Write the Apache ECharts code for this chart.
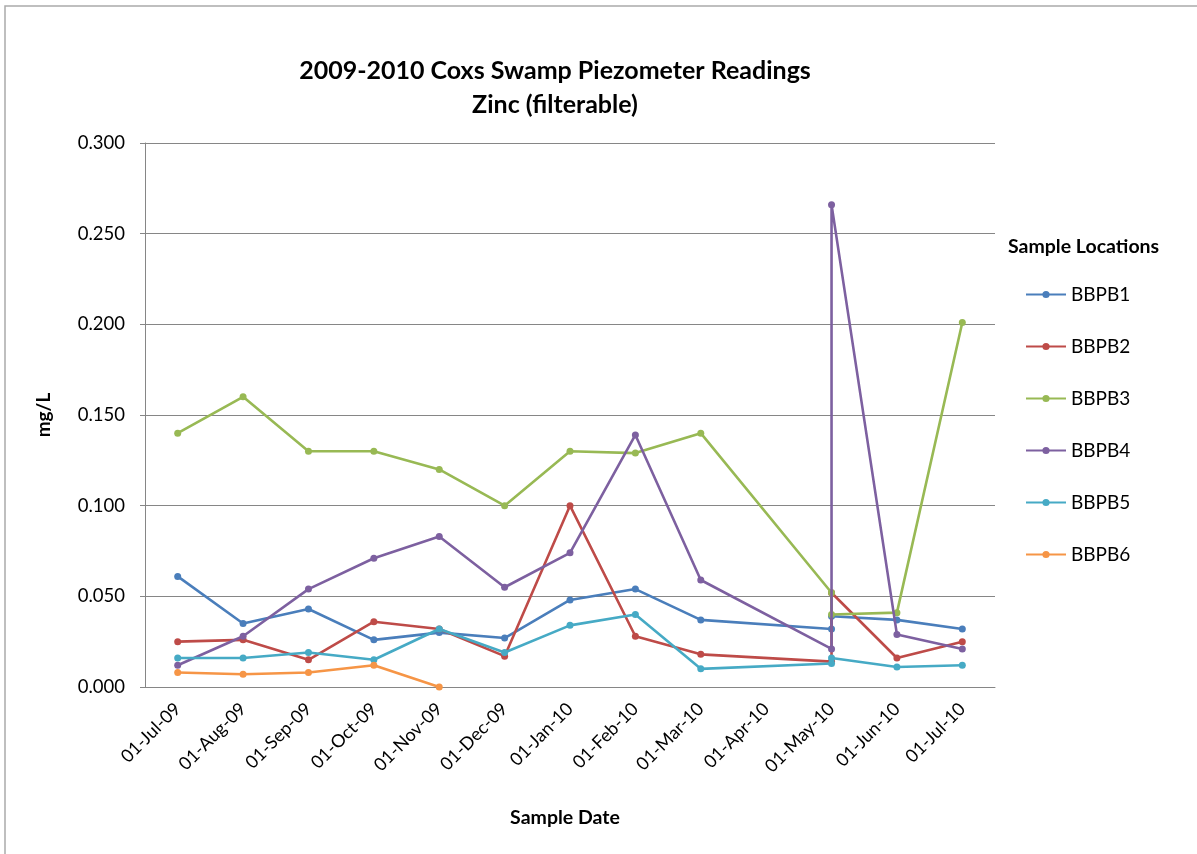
<!DOCTYPE html>
<html>
<head>
<meta charset="utf-8">
<script src="https://cdn.jsdelivr.net/npm/echarts@6/dist/echarts.min.js"></script>
<style>
  html, body { margin: 0; padding: 0; background: #fff; }
  #chart { width: 1197px; height: 854px; }
</style>
</head>
<body>
<div id="chart"></div>
<script>
// Monthly sample slots on the date axis
const months = ['01-Jul-09', '01-Aug-09', '01-Sep-09', '01-Oct-09', '01-Nov-09', '01-Dec-09',
                '01-Jan-10', '01-Feb-10', '01-Mar-10', '01-Apr-10', '01-May-10', '01-Jun-10', '01-Jul-10'];

// Zinc (filterable) readings, mg/L, as [sample month, value]; May-10 was sampled twice
const BBPB1 = [['01-Jul-09', 0.061], ['01-Aug-09', 0.035], ['01-Sep-09', 0.043], ['01-Oct-09', 0.026],
               ['01-Nov-09', 0.030], ['01-Dec-09', 0.027], ['01-Jan-10', 0.048], ['01-Feb-10', 0.054],
               ['01-Mar-10', 0.037], ['01-May-10', 0.032], ['01-May-10', 0.039], ['01-Jun-10', 0.037],
               ['01-Jul-10', 0.032]];
const BBPB2 = [['01-Jul-09', 0.025], ['01-Aug-09', 0.026], ['01-Sep-09', 0.015], ['01-Oct-09', 0.036],
               ['01-Nov-09', 0.032], ['01-Dec-09', 0.017], ['01-Jan-10', 0.100], ['01-Feb-10', 0.028],
               ['01-Mar-10', 0.018], ['01-May-10', 0.014], ['01-May-10', 0.052], ['01-Jun-10', 0.016],
               ['01-Jul-10', 0.025]];
const BBPB3 = [['01-Jul-09', 0.140], ['01-Aug-09', 0.160], ['01-Sep-09', 0.130], ['01-Oct-09', 0.130],
               ['01-Nov-09', 0.120], ['01-Dec-09', 0.100], ['01-Jan-10', 0.130], ['01-Feb-10', 0.129],
               ['01-Mar-10', 0.140], ['01-May-10', 0.052], ['01-May-10', 0.040], ['01-Jun-10', 0.041],
               ['01-Jul-10', 0.201]];
const BBPB4 = [['01-Jul-09', 0.012], ['01-Aug-09', 0.028], ['01-Sep-09', 0.054], ['01-Oct-09', 0.071],
               ['01-Nov-09', 0.083], ['01-Dec-09', 0.055], ['01-Jan-10', 0.074], ['01-Feb-10', 0.139],
               ['01-Mar-10', 0.059], ['01-May-10', 0.021], ['01-May-10', 0.266], ['01-Jun-10', 0.029],
               ['01-Jul-10', 0.021]];
const BBPB5 = [['01-Jul-09', 0.016], ['01-Aug-09', 0.016], ['01-Sep-09', 0.019], ['01-Oct-09', 0.015],
               ['01-Nov-09', 0.032], ['01-Dec-09', 0.019], ['01-Jan-10', 0.034], ['01-Feb-10', 0.040],
               ['01-Mar-10', 0.010], ['01-May-10', 0.013], ['01-May-10', 0.016], ['01-Jun-10', 0.011],
               ['01-Jul-10', 0.012]];
const BBPB6 = [['01-Jul-09', 0.008], ['01-Aug-09', 0.007], ['01-Sep-09', 0.008], ['01-Oct-09', 0.012],
               ['01-Nov-09', 0.000]];

const seriesNames = ['BBPB1', 'BBPB2', 'BBPB3', 'BBPB4', 'BBPB5', 'BBPB6'];
const seriesData = [BBPB1, BBPB2, BBPB3, BBPB4, BBPB5, BBPB6];
const colors = ['#4A7EBB', '#BE4B48', '#98B954', '#7D60A0', '#46AAC5', '#F69546'];

const FONT = 'Lato, "Open Sans", sans-serif';

const chart = echarts.init(document.getElementById('chart'), null, { renderer: 'canvas' });

chart.setOption({
  animation: false,
  backgroundColor: '#ffffff',
  color: colors,
  textStyle: { fontFamily: FONT, color: '#000' },
  title: {
    text: '2009-2010 Coxs Swamp Piezometer Readings\nZinc (filterable)',
    left: 550,
    textAlign: 'center',
    top: 49,
    textStyle: { fontFamily: FONT, fontSize: 25, fontWeight: 'bold', color: '#000', lineHeight: 34 }
  },
  graphic: [
    {
      type: 'rect',
      shape: { x: 5, y: 6, width: 1300, height: 1000 },
      style: { fill: 'none', stroke: '#ababab', lineWidth: 1.5 },
      silent: true
    },
    {
      type: 'text',
      left: 1008,
      top: 237,
      style: { text: 'Sample Locations', fontFamily: FONT, fontSize: 19.5, fontWeight: 'bold', fill: '#000' }
    }
  ],
  legend: {
    orient: 'vertical',
    left: 1025,
    top: 285,
    padding: 0,
    itemWidth: 40,
    itemHeight: 9,
    itemGap: 33,
    textStyle: { fontFamily: FONT, fontSize: 19, color: '#000', padding: [0, 0, 0, 0] },
    data: seriesNames
  },
  grid: { left: 145, right: 202, top: 143, bottom: 167, containLabel: false },
  xAxis: {
    type: 'category',
    data: months,
    boundaryGap: true,
    name: 'Sample Date',
    nameLocation: 'middle',
    nameGap: 121,
    nameTextStyle: { fontFamily: FONT, fontSize: 19.5, fontWeight: 'bold', color: '#000', padding: [0, 0, 0, -10] },
    axisLine: { lineStyle: { color: '#868686', width: 1 } },
    axisTick: { show: false },
    axisLabel: { rotate: 45, margin: 19, fontFamily: FONT, fontSize: 18, color: '#000', interval: 0 },
    splitLine: { show: false }
  },
  yAxis: {
    type: 'value',
    min: 0,
    max: 0.3,
    interval: 0.05,
    name: 'mg/L',
    nameLocation: 'middle',
    nameGap: 92,
    nameRotate: 90,
    nameTextStyle: { fontFamily: FONT, fontSize: 19, fontWeight: 'bold', color: '#000' },
    axisLine: { show: true, lineStyle: { color: '#868686', width: 1 } },
    axisTick: { show: true, inside: false, length: 5, lineStyle: { color: '#868686' } },
    axisLabel: {
      fontFamily: FONT, fontSize: 18.5, color: '#000', margin: 20,
      formatter: v => v.toFixed(3)
    },
    splitLine: { show: true, lineStyle: { color: '#868686', width: 1 } }
  },
  series: seriesNames.map((name, i) => ({
    name: name,
    type: 'line',
    data: seriesData[i],
    symbol: 'circle',
    symbolSize: 7,
    lineStyle: { width: 2.6, color: colors[i] },
    itemStyle: { color: colors[i] },
    z: 2 + i
  }))
});
</script>
</body>
</html>
